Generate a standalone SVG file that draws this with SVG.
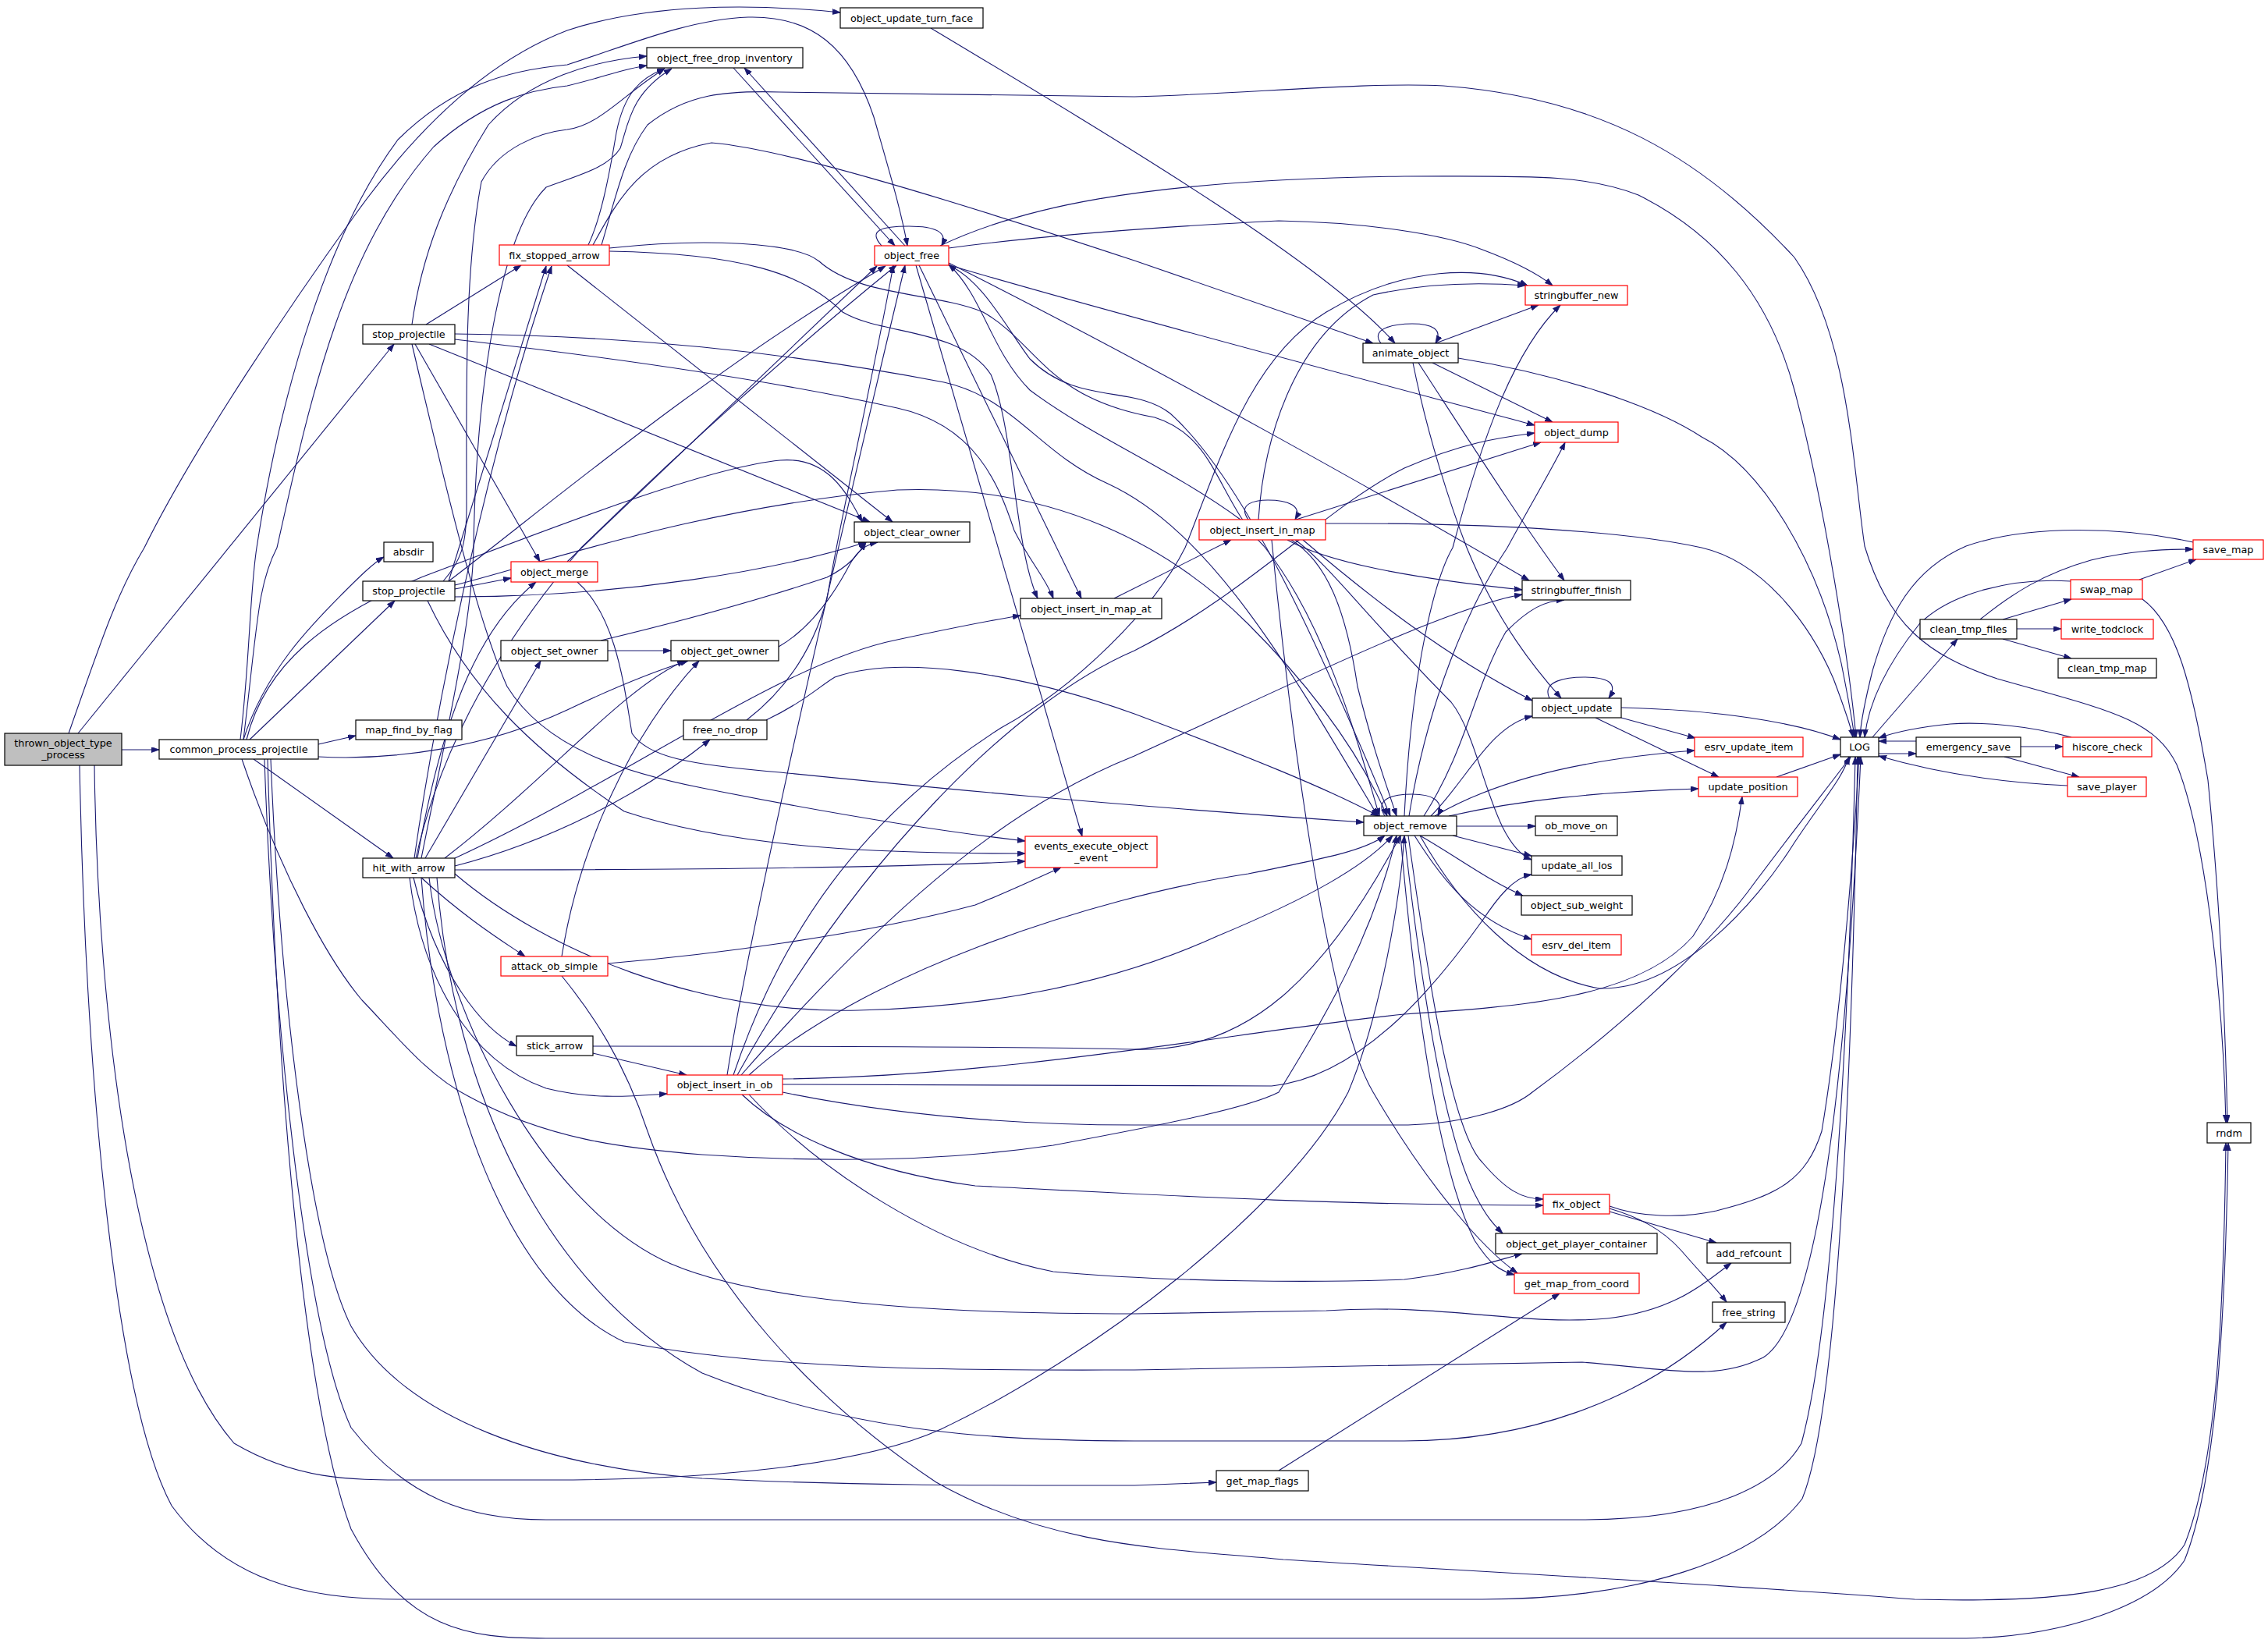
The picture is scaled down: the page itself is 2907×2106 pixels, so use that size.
<svg xmlns="http://www.w3.org/2000/svg" width="2907" height="2106" viewBox="0 0 2907 2106">
<style>
.n rect{fill:#fff;stroke:#000;stroke-width:1.2}
.n.r rect{stroke:#ff0000}
.n.root rect{fill:#bfbfbf}
.n text{font-family:"DejaVu Sans","Liberation Sans",sans-serif;font-size:12.8px;fill:#000;text-anchor:middle}
#edges path{fill:none;stroke:#191970;stroke-width:1.1;marker-end:url(#arr)}
</style>
<defs>
<marker id="arr" markerWidth="11" markerHeight="8" refX="10" refY="3.5" orient="auto" markerUnits="userSpaceOnUse"><path d="M0,0 L10,3.5 L0,7 z" fill="#191970" stroke="#191970" stroke-width="0.8"/></marker>
</defs>
<rect width="2907" height="2106" fill="#fff"/>
<g id="edges">
<path d="M156,961 L204,961"/>
<path d="M100,940 L505,441"/>
<path d="M88,940 C130,820 150,760 185,702 C250,570 380,380 454,277 C530,170 620,80 727,39 C830,5 960,4 1077,16"/>
<path d="M121,981 C125,1300 170,1700 300,1850 C380,1897 450,1897 520,1897 L705,1897 C900,1897 1100,1880 1206,1832 C1400,1740 1650,1550 1728,1400 C1770,1300 1795,1150 1800,1071"/>
<path d="M102,981 C110,1400 150,1800 220,1930 C300,2040 420,2050 520,2050 L1900,2050 C2100,2050 2250,2000 2310,1921 C2360,1800 2375,1300 2381,970"/>
<path d="M312,948 C330,800 330,750 355,702 C400,500 440,320 556,188 C620,130 680,115 727,110 C770,100 800,88 829,84"/>
<path d="M308,948 C320,850 320,760 329,702 C360,500 420,300 510,179 C580,110 650,90 727,83 C800,60 880,25 959,22 C1040,20 1090,60 1120,150 C1140,220 1155,270 1163,315"/>
<path d="M320,948 L506,770"/>
<path d="M312,948 C340,860 400,800 440,760 C460,740 478,722 492,714"/>
<path d="M408,954 L456,943"/>
<path d="M325,973 L504,1100"/>
<path d="M408,970 C500,975 620,960 727,910 C790,880 840,860 882,847"/>
<path d="M310,973 C360,1120 420,1230 464,1282 C510,1330 550,1380 600,1405 C700,1460 800,1472 900,1480 C1050,1490 1200,1490 1350,1468 C1500,1440 1600,1420 1639,1400 C1700,1300 1760,1200 1790,1071"/>
<path d="M347,973 C360,1300 400,1600 450,1700 C520,1820 700,1880 900,1895 C1100,1905 1300,1904 1454,1904 L1559,1900"/>
<path d="M339,973 C350,1300 390,1700 450,1830 C520,1920 600,1948 700,1948 L2028,1948 C2200,1948 2280,1900 2309,1850 C2350,1700 2370,1300 2378,970"/>
<path d="M343,973 C355,1400 390,1800 450,1960 C520,2090 600,2100 700,2100 L2520,2100 C2640,2098 2760,2060 2800,2000 C2840,1900 2852,1700 2856,1465"/>
<path d="M316,948 C340,850 420,790 540,740 C700,680 900,600 1000,590 C1060,585 1085,630 1105,669"/>
<path d="M546,416 L668,340"/>
<path d="M528,416 C540,330 570,250 626,160 C680,100 760,78 829,72"/>
<path d="M532,441 L692,720"/>
<path d="M550,441 L1115,669"/>
<path d="M528,441 C570,620 610,790 650,880 C700,960 800,990 900,1010 C1050,1040 1200,1065 1314,1078"/>
<path d="M583,428 C800,430 1000,450 1210,490 C1300,510 1330,580 1420,620 C1550,680 1650,850 1766,1046"/>
<path d="M583,435 C800,460 1000,490 1150,523 C1250,545 1280,620 1300,680 C1320,720 1340,740 1350,767"/>
<path d="M575,745 L700,341"/>
<path d="M583,755 L655,741"/>
<path d="M575,745 C700,650 900,480 1135,341"/>
<path d="M568,745 C590,720 598,700 598,650 C598,500 595,350 617,233 C640,190 690,170 727,166 C770,160 800,120 852,88"/>
<path d="M548,770 C600,880 680,960 800,1040 C950,1090 1150,1094 1314,1094"/>
<path d="M583,765 C800,765 1000,730 1110,695"/>
<path d="M583,750 C700,720 900,650 1150,628 C1350,620 1500,700 1600,800 C1680,880 1740,960 1778,1046"/>
<path d="M531,1100 C560,900 620,600 707,341"/>
<path d="M535,1100 C570,900 620,800 687,746"/>
<path d="M545,1100 L693,847"/>
<path d="M570,1100 C700,1000 800,880 878,847"/>
<path d="M583,1110 C700,1080 820,1020 910,948"/>
<path d="M540,1125 C600,1180 650,1210 673,1226"/>
<path d="M530,1125 C560,1250 620,1320 662,1341"/>
<path d="M525,1125 C540,1250 600,1360 700,1395 C760,1410 810,1405 855,1402"/>
<path d="M583,1115 C900,1115 1150,1112 1314,1104"/>
<path d="M583,1120 C700,1220 900,1300 1100,1295 C1300,1290 1450,1250 1560,1200 C1680,1150 1750,1110 1785,1071"/>
<path d="M583,1100 C800,1000 1000,850 1150,820 C1220,805 1270,795 1308,789"/>
<path d="M533,1100 C560,980 620,850 745,702 C900,550 1050,420 1149,340"/>
<path d="M540,1100 C570,950 605,800 607,702 C610,500 640,300 700,240 C740,225 780,215 795,190 C805,160 808,120 861,88"/>
<path d="M540,1125 C560,1400 650,1650 800,1720 C1000,1760 1300,1756 1454,1756 L2028,1746 C2150,1756 2200,1770 2260,1740 C2340,1690 2370,1300 2385,970"/>
<path d="M550,1125 C570,1300 700,1550 860,1620 C1000,1680 1300,1684 1454,1684 L1700,1680 C1850,1670 1950,1700 2060,1690 C2150,1680 2190,1640 2219,1619"/>
<path d="M560,1125 C580,1400 700,1650 900,1760 C1100,1840 1300,1847 1454,1847 L1800,1847 C1950,1847 2100,1800 2213,1695"/>
<path d="M720,1226 C740,1100 800,950 896,847"/>
<path d="M779,1235 C900,1225 1100,1200 1250,1160 C1300,1140 1330,1125 1360,1112"/>
<path d="M720,1251 C760,1300 800,1360 830,1450 C900,1650 1050,1800 1200,1900 C1350,1985 1500,1985 1645,1999 C1900,2015 2200,2030 2454,2050 C2650,2055 2760,2040 2800,1980 C2840,1880 2850,1700 2853,1465"/>
<path d="M760,1350 L880,1378"/>
<path d="M760,1341 C1000,1341 1300,1341 1454,1345 C1600,1350 1700,1250 1795,1071"/>
<path d="M932,1378 C960,1200 1050,800 1160,340"/>
<path d="M940,1378 C1000,1200 1100,1050 1283,933 C1380,880 1480,780 1519,702 C1560,600 1600,460 1700,400 C1800,340 1900,340 1958,366"/>
<path d="M945,1378 C1100,1100 1300,900 1454,834 C1600,760 1700,650 1800,600 C1880,565 1930,560 1967,555"/>
<path d="M950,1378 C1150,1150 1300,1030 1454,969 C1650,880 1850,780 1951,762"/>
<path d="M960,1378 C1100,1250 1400,1150 1600,1120 C1700,1100 1750,1090 1775,1071"/>
<path d="M1003,1390 C1300,1392 1550,1392 1630,1392 C1750,1380 1850,1250 1900,1180 C1920,1150 1940,1125 1963,1121"/>
<path d="M951,1403 C1000,1450 1100,1500 1250,1520 C1450,1530 1700,1545 1978,1545"/>
<path d="M960,1403 C1050,1500 1200,1600 1350,1630 C1500,1644 1700,1644 1800,1640 C1880,1630 1920,1615 1951,1607"/>
<path d="M1003,1400 C1150,1430 1300,1442 1454,1442 L1805,1442 C1880,1440 1940,1420 1964,1400 C2100,1300 2200,1200 2250,1130 C2310,1050 2350,1000 2372,970"/>
<path d="M1003,1383 C1300,1380 1600,1320 1800,1300 C1950,1290 2100,1280 2170,1200 C2210,1140 2225,1080 2233,1021"/>
<path d="M1775,1046 C1760,1022 1790,1018 1810,1018 C1835,1018 1852,1026 1843,1046"/>
<path d="M1867,1059 L1968,1059"/>
<path d="M1862,1071 L1963,1097"/>
<path d="M1820,1071 C1870,1100 1910,1130 1952,1148"/>
<path d="M1813,1071 C1850,1130 1890,1180 1963,1204"/>
<path d="M1839,1046 C1900,1010 2000,975 2172,962"/>
<path d="M1857,1046 C1950,1025 2050,1015 2177,1011"/>
<path d="M1834,1046 C1880,1000 1910,930 1964,918"/>
<path d="M1825,1046 C1880,960 1890,880 1930,810 C1960,780 1980,770 2005,769"/>
<path d="M1806,1046 C1830,900 1880,780 1932,702 C1960,650 1990,600 2006,567"/>
<path d="M1800,1046 C1810,850 1840,740 1862,702 C1900,560 1940,450 2000,391"/>
<path d="M1820,1071 C1870,1160 1950,1250 2050,1267 C2150,1270 2250,1160 2300,1080 C2340,1020 2360,1000 2370,970"/>
<path d="M1805,1071 C1830,1250 1860,1450 1900,1490 C1930,1525 1950,1537 1978,1537"/>
<path d="M1800,1071 C1820,1250 1850,1450 1890,1530 C1905,1560 1915,1570 1926,1581"/>
<path d="M1795,1071 C1815,1300 1845,1500 1890,1590 C1910,1620 1920,1628 1941,1634"/>
<path d="M1600,666 C1585,645 1610,641 1625,641 C1650,641 1670,648 1660,666"/>
<path d="M1658,667 L1975,567"/>
<path d="M1613,666 C1620,560 1660,430 1760,378 C1830,362 1900,362 1955,366"/>
<path d="M1650,692 C1700,720 1800,740 1951,756"/>
<path d="M1699,671 C1900,670 2080,680 2181,702 C2260,720 2320,800 2350,870 C2365,910 2372,930 2375,945"/>
<path d="M1655,692 C1700,720 1725,780 1740,880 C1760,960 1775,1000 1790,1046"/>
<path d="M1660,692 C1700,720 1760,800 1860,900 C1900,950 1910,1080 1963,1102"/>
<path d="M1670,692 C1750,760 1850,840 1964,898"/>
<path d="M1630,692 C1650,900 1700,1300 1760,1400 C1830,1520 1900,1600 1945,1632"/>
<path d="M1590,666 C1500,600 1400,560 1320,500 C1270,450 1260,380 1216,339"/>
<path d="M1428,767 L1578,692"/>
<path d="M940,87 L1147,315"/>
<path d="M1160,315 L954,87"/>
<path d="M1130,315 C1112,295 1130,290 1165,290 C1200,290 1215,298 1207,315"/>
<path d="M1174,340 L1387,1072"/>
<path d="M1178,340 L1386,767"/>
<path d="M1216,318 C1350,300 1500,290 1639,283 C1750,285 1850,300 1900,320 C1940,335 1970,350 1990,366"/>
<path d="M1205,315 C1300,270 1450,230 1800,226 C1950,226 2030,222 2100,250 C2200,300 2268,380 2300,500 C2340,650 2370,850 2379,945"/>
<path d="M1214,339 C1400,395 1800,500 1967,545"/>
<path d="M1216,337 C1500,480 1800,650 1960,744"/>
<path d="M1216,340 C1260,360 1290,420 1320,460 C1380,520 1454,493 1500,530 C1600,620 1700,850 1782,1046"/>
<path d="M754,314 C770,280 780,230 790,170 C800,120 820,100 852,88"/>
<path d="M771,314 C790,250 800,200 830,160 C880,120 930,116 1000,118 L1454,124 C1600,120 1750,105 1850,110 C2050,125 2180,200 2300,330 C2370,430 2375,600 2390,700 C2420,800 2470,840 2560,870 C2700,910 2760,920 2790,980 C2830,1080 2850,1300 2853,1439"/>
<path d="M760,314 C790,260 820,200 912,183 C1000,190 1200,250 1454,334 C1600,385 1700,420 1760,440"/>
<path d="M727,340 L1144,669"/>
<path d="M781,318 C900,305 1020,310 1050,335 C1100,380 1200,375 1260,400 C1330,440 1340,510 1480,535 C1560,560 1560,640 1620,700 C1700,800 1740,950 1768,1046"/>
<path d="M781,322 C950,325 1030,350 1080,400 C1130,430 1230,420 1270,480 C1300,550 1300,700 1330,767"/>
<path d="M1193,36 C1450,190 1700,340 1788,440"/>
<path d="M998,829 C1040,805 1070,760 1090,722 C1100,705 1110,698 1125,695"/>
<path d="M779,834 L860,834"/>
<path d="M770,821 C900,790 1000,760 1060,740 C1090,725 1100,710 1110,695"/>
<path d="M957,923 C1000,890 1040,840 1060,767 C1080,650 1120,480 1145,340"/>
<path d="M982,923 C1030,900 1050,880 1070,868 C1150,840 1300,860 1454,915 C1600,970 1700,1010 1767,1046"/>
<path d="M727,720 L1124,341"/>
<path d="M740,746 C790,790 800,880 810,940 C830,970 880,980 1000,990 C1200,1010 1400,1030 1748,1054"/>
<path d="M1770,440 C1755,420 1790,415 1810,415 C1835,415 1850,422 1840,440"/>
<path d="M1840,440 L1972,391"/>
<path d="M1836,465 L1990,541"/>
<path d="M1869,459 C2000,480 2120,520 2181,560 C2260,600 2330,720 2360,850 C2370,900 2375,930 2377,945"/>
<path d="M1818,465 C1880,560 1950,670 2005,744"/>
<path d="M1811,465 C1830,560 1860,650 1880,702 C1920,800 1970,860 2001,895"/>
<path d="M1986,895 C1975,872 2010,868 2030,868 C2060,868 2075,875 2062,895"/>
<path d="M2078,907 C2200,910 2300,925 2359,948"/>
<path d="M2078,920 L2173,946"/>
<path d="M2045,920 L2203,996"/>
<path d="M2277,996 L2359,967"/>
<path d="M2400,945 L2509,819"/>
<path d="M2408,966 L2456,966"/>
<path d="M2456,950 L2408,950"/>
<path d="M2590,957 L2644,957"/>
<path d="M2569,970 L2665,996"/>
<path d="M2655,945 C2600,930 2540,925 2500,928 C2460,932 2430,938 2408,946"/>
<path d="M2650,1007 C2560,1003 2480,990 2408,969"/>
<path d="M2567,794 L2655,768"/>
<path d="M2585,806 L2642,806"/>
<path d="M2567,819 L2655,844"/>
<path d="M2538,794 C2580,760 2620,735 2680,718 C2730,706 2770,704 2811,704"/>
<path d="M2742,743 L2815,717"/>
<path d="M2654,745 C2580,740 2500,760 2460,800 C2420,850 2395,900 2390,945"/>
<path d="M2811,695 C2720,675 2600,672 2520,700 C2450,730 2420,790 2400,860 C2390,900 2385,925 2384,945"/>
<path d="M2746,768 C2790,800 2810,880 2830,1000 C2845,1150 2852,1300 2855,1439"/>
<path d="M1639,1885 L1999,1658"/>
<path d="M2063,1546 C2100,1560 2155,1562 2200,1552 C2280,1532 2315,1512 2335,1450 C2360,1300 2375,1100 2383,970"/>
<path d="M2063,1553 L2200,1593"/>
<path d="M2063,1549 C2100,1560 2130,1575 2155,1603 C2180,1632 2200,1652 2213,1669"/>
</g>
<g id="n_thrown_object_type_process" class="n root"><rect x="6" y="940" width="150" height="41"/><text x="81" y="957">thrown_object_type</text><text x="81" y="972">_process</text></g>
<g id="n_common_process_projectile" class="n"><rect x="204" y="948" width="204" height="25"/><text x="306" y="965">common_process_projectile</text></g>
<g id="n_stop_projectile_1" class="n"><rect x="465" y="416" width="118" height="25"/><text x="524" y="433">stop_projectile</text></g>
<g id="n_stop_projectile_2" class="n"><rect x="465" y="745" width="118" height="25"/><text x="524" y="762">stop_projectile</text></g>
<g id="n_absdir" class="n"><rect x="492" y="695" width="63" height="25"/><text x="523.5" y="712">absdir</text></g>
<g id="n_map_find_by_flag" class="n"><rect x="456" y="923" width="136" height="25"/><text x="524" y="940">map_find_by_flag</text></g>
<g id="n_hit_with_arrow" class="n"><rect x="465" y="1100" width="118" height="25"/><text x="524" y="1117">hit_with_arrow</text></g>
<g id="n_attack_ob_simple" class="n r"><rect x="642" y="1226" width="137" height="25"/><text x="710.5" y="1243">attack_ob_simple</text></g>
<g id="n_stick_arrow" class="n"><rect x="662" y="1328" width="98" height="25"/><text x="711" y="1345">stick_arrow</text></g>
<g id="n_object_insert_in_ob" class="n r"><rect x="855" y="1378" width="148" height="25"/><text x="929" y="1395">object_insert_in_ob</text></g>
<g id="n_object_merge" class="n r"><rect x="655" y="720" width="111" height="26"/><text x="710.5" y="737.5">object_merge</text></g>
<g id="n_object_set_owner" class="n"><rect x="642" y="821" width="137" height="26"/><text x="710.5" y="838.5">object_set_owner</text></g>
<g id="n_object_get_owner" class="n"><rect x="860" y="821" width="138" height="26"/><text x="929" y="838.5">object_get_owner</text></g>
<g id="n_free_no_drop" class="n"><rect x="876" y="923" width="107" height="25"/><text x="929.5" y="940">free_no_drop</text></g>
<g id="n_object_clear_owner" class="n"><rect x="1095" y="669" width="148" height="26"/><text x="1169" y="686.5">object_clear_owner</text></g>
<g id="n_fix_stopped_arrow" class="n r"><rect x="640" y="314" width="141" height="26"/><text x="710.5" y="331.5">fix_stopped_arrow</text></g>
<g id="n_object_free_drop_inventory" class="n"><rect x="829" y="61" width="200" height="26"/><text x="929" y="78.5">object_free_drop_inventory</text></g>
<g id="n_object_update_turn_face" class="n"><rect x="1077" y="10" width="183" height="26"/><text x="1168.5" y="27.5">object_update_turn_face</text></g>
<g id="n_object_free" class="n r"><rect x="1121" y="315" width="95" height="25"/><text x="1168.5" y="332">object_free</text></g>
<g id="n_object_insert_in_map_at" class="n"><rect x="1308" y="767" width="181" height="26"/><text x="1398.5" y="784.5">object_insert_in_map_at</text></g>
<g id="n_object_insert_in_map" class="n r"><rect x="1537" y="666" width="162" height="26"/><text x="1618" y="683.5">object_insert_in_map</text></g>
<g id="n_animate_object" class="n"><rect x="1747" y="440" width="122" height="25"/><text x="1808" y="457">animate_object</text></g>
<g id="n_stringbuffer_new" class="n r"><rect x="1955" y="366" width="131" height="25"/><text x="2020.5" y="383">stringbuffer_new</text></g>
<g id="n_object_dump" class="n r"><rect x="1967" y="541" width="107" height="26"/><text x="2020.5" y="558.5">object_dump</text></g>
<g id="n_stringbuffer_finish" class="n"><rect x="1951" y="744" width="139" height="25"/><text x="2020.5" y="761">stringbuffer_finish</text></g>
<g id="n_object_update" class="n"><rect x="1964" y="895" width="114" height="25"/><text x="2021" y="912">object_update</text></g>
<g id="n_object_remove" class="n"><rect x="1748" y="1046" width="119" height="25"/><text x="1807.5" y="1063">object_remove</text></g>
<g id="n_ob_move_on" class="n"><rect x="1968" y="1046" width="105" height="25"/><text x="2020.5" y="1063">ob_move_on</text></g>
<g id="n_update_all_los" class="n"><rect x="1963" y="1097" width="116" height="25"/><text x="2021" y="1114">update_all_los</text></g>
<g id="n_object_sub_weight" class="n"><rect x="1950" y="1148" width="142" height="25"/><text x="2021" y="1165">object_sub_weight</text></g>
<g id="n_esrv_del_item" class="n r"><rect x="1963" y="1198" width="115" height="26"/><text x="2020.5" y="1215.5">esrv_del_item</text></g>
<g id="n_events_execute_object_event" class="n r"><rect x="1314" y="1072" width="169" height="40"/><text x="1398.5" y="1088.5">events_execute_object</text><text x="1398.5" y="1103.5">_event</text></g>
<g id="n_esrv_update_item" class="n r"><rect x="2172" y="945" width="139" height="25"/><text x="2241.5" y="962">esrv_update_item</text></g>
<g id="n_update_position" class="n r"><rect x="2177" y="996" width="127" height="25"/><text x="2240.5" y="1013">update_position</text></g>
<g id="n_LOG" class="n"><rect x="2359" y="945" width="49" height="25"/><text x="2383.5" y="962">LOG</text></g>
<g id="n_emergency_save" class="n"><rect x="2456" y="945" width="134" height="25"/><text x="2523" y="962">emergency_save</text></g>
<g id="n_hiscore_check" class="n r"><rect x="2644" y="945" width="114" height="25"/><text x="2701" y="962">hiscore_check</text></g>
<g id="n_save_player" class="n r"><rect x="2650" y="996" width="101" height="25"/><text x="2700.5" y="1013">save_player</text></g>
<g id="n_clean_tmp_files" class="n"><rect x="2461" y="794" width="124" height="25"/><text x="2523" y="811">clean_tmp_files</text></g>
<g id="n_write_todclock" class="n r"><rect x="2642" y="794" width="118" height="25"/><text x="2701" y="811">write_todclock</text></g>
<g id="n_clean_tmp_map" class="n"><rect x="2638" y="844" width="126" height="25"/><text x="2701" y="861">clean_tmp_map</text></g>
<g id="n_swap_map" class="n r"><rect x="2654" y="743" width="92" height="25"/><text x="2700" y="760">swap_map</text></g>
<g id="n_save_map" class="n r"><rect x="2811" y="692" width="90" height="25"/><text x="2856" y="709">save_map</text></g>
<g id="n_rndm" class="n"><rect x="2829" y="1439" width="56" height="26"/><text x="2857" y="1456.5">rndm</text></g>
<g id="n_fix_object" class="n r"><rect x="1978" y="1531" width="85" height="25"/><text x="2020.5" y="1548">fix_object</text></g>
<g id="n_object_get_player_container" class="n"><rect x="1917" y="1581" width="207" height="26"/><text x="2020.5" y="1598.5">object_get_player_container</text></g>
<g id="n_get_map_from_coord" class="n r"><rect x="1941" y="1632" width="160" height="26"/><text x="2021" y="1649.5">get_map_from_coord</text></g>
<g id="n_add_refcount" class="n"><rect x="2188" y="1593" width="107" height="26"/><text x="2241.5" y="1610.5">add_refcount</text></g>
<g id="n_free_string" class="n"><rect x="2195" y="1669" width="93" height="26"/><text x="2241.5" y="1686.5">free_string</text></g>
<g id="n_get_map_flags" class="n"><rect x="1559" y="1885" width="118" height="26"/><text x="1618" y="1902.5">get_map_flags</text></g>
</svg>
